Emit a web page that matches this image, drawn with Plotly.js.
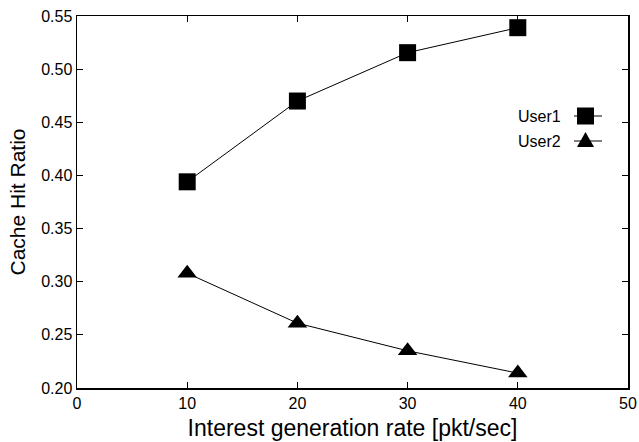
<!DOCTYPE html>
<html>
<head>
<meta charset="utf-8">
<script src="https://cdn.plot.ly/plotly-3.0.1.min.js"></script>
<style>html,body{margin:0;padding:0;background:#fff;}#chart{width:639px;height:442px;}</style>
</head>
<body>
<div id="chart"></div>
<script>
const rates = [10, 20, 30, 40];
const user1 = [0.394, 0.470, 0.5155, 0.539];
const user2 = [0.308, 0.261, 0.235, 0.214];
const xTicks = [0, 10, 20, 30, 40, 50];
const yTicks = [0.20, 0.25, 0.30, 0.35, 0.40, 0.45, 0.50, 0.55];
const seriesNames = ['User1', 'User2'];

const font = 'Liberation Sans, Arial, Helvetica, sans-serif';
const W = 639, H = 442, ML = 77, MR = 11, MT = 16, MB = 54;

const traces = [
  {x: rates, y: user1, name: seriesNames[0], type: 'scatter', mode: 'lines+markers',
   line: {color: '#000', width: 1}, marker: {symbol: 'square', size: 17, color: '#000'}},
  {x: rates, y: user2, name: seriesNames[1], type: 'scatter', mode: 'lines+markers',
   line: {color: '#000', width: 1}, marker: {symbol: 'triangle-up', size: 17, color: '#000'}}
];

const layout = {
  width: W, height: H,
  margin: {l: ML, r: MR, t: MT, b: MB},
  paper_bgcolor: '#fff', plot_bgcolor: '#fff',
  showlegend: false,
  font: {family: font, color: '#000'},
  xaxis: {range: [0, 50], tickvals: xTicks, ticktext: xTicks.map(String),
    showgrid: false, zeroline: false, showline: true, mirror: 'ticks', linecolor: '#000', linewidth: 1.5,
    ticks: 'inside', ticklen: 6, tickcolor: '#000', tickwidth: 1,
    tickfont: {family: font, size: 16, color: '#000'},
    title: {text: 'Interest generation rate [pkt/sec]', font: {family: font, size: 23, color: '#000'}, standoff: 9}},
  yaxis: {range: [0.20, 0.55], tickvals: yTicks, ticktext: yTicks.map(v => v.toFixed(2)),
    showgrid: false, zeroline: false, showline: true, mirror: 'ticks', linecolor: '#000', linewidth: 1.5,
    ticks: 'inside', ticklen: 6, tickcolor: '#000', tickwidth: 1,
    tickfont: {family: font, size: 16, color: '#000'},
    title: {text: 'Cache Hit Ratio', font: {family: font, size: 21, color: '#000'}, standoff: 10}},
  shapes: [], annotations: []
};

// custom legend (gnuplot style: text left of sample), in paper coords
const plotW = W - ML - MR, plotH = H - MT - MB;
const px = x => (x - ML) / plotW;
const py = y => (H - MB - y) / plotH;
const legY = [116, 141];
seriesNames.forEach((n, i) => {
  const y = legY[i];
  layout.annotations.push({xref: 'paper', yref: 'paper', x: px(563), y: py(y), text: n, showarrow: false,
    font: {family: font, size: 16, color: '#000'}, xanchor: 'right', yanchor: 'middle'});
  layout.shapes.push({type: 'line', xref: 'paper', yref: 'paper', x0: px(574), x1: px(602), y0: py(y), y1: py(y),
    line: {color: '#000', width: 1}});
  if (i === 0) {
    layout.shapes.push({type: 'rect', xref: 'paper', yref: 'paper', x0: px(577), x1: px(594), y0: py(y - 8.5), y1: py(y + 8.5),
      fillcolor: '#000', line: {width: 0}});
  } else {
    const cx = 585.5, cy = y;
    const path = `M ${px(cx - 8.5)} ${py(cy + 6)} L ${px(cx + 8.5)} ${py(cy + 6)} L ${px(cx)} ${py(cy - 9)} Z`;
    layout.shapes.push({type: 'path', xref: 'paper', yref: 'paper', path: path, fillcolor: '#000', line: {width: 0}});
  }
});

Plotly.newPlot('chart', traces, layout, {displayModeBar: false, staticPlot: true});
</script>
</body>
</html>
